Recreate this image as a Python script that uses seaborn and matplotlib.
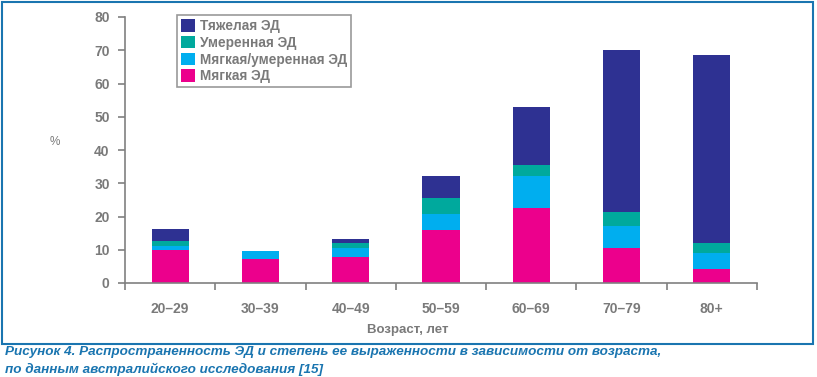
import numpy as np
import pandas as pd
import seaborn as sns
import matplotlib as mpl
import matplotlib.pyplot as plt
from matplotlib.patches import Patch, Rectangle

sns.set_theme(style="white")
plt.rcParams["font.family"] = ["Liberation Sans", "DejaVu Sans"]

ages = ["20–29", "30–39", "40–49", "50–59", "60–69", "70–79", "80+"]
mild = [10.0, 7.2, 7.8, 16.0, 22.6, 10.6, 4.3]
mild_moderate = [1.2, 2.5, 2.7, 4.8, 9.7, 6.6, 4.8]
moderate = [1.4, 0.0, 1.5, 4.8, 3.2, 4.2, 3.0]
severe = [3.6, 0.0, 1.2, 6.6, 17.4, 48.6, 56.5]

names = ["Мягкая ЭД", "Мягкая/умеренная ЭД", "Умеренная ЭД", "Тяжелая ЭД"]
colors = ["#ec008c", "#00aeef", "#00a99d", "#2e3192"]

df = pd.DataFrame({"age": ages, "mild": mild, "mm": mild_moderate,
                   "mod": moderate, "sev": severe})
df["c1"] = df["mild"]
df["c2"] = df["c1"] + df["mm"]
df["c3"] = df["c2"] + df["mod"]
df["c4"] = df["c3"] + df["sev"]

gray = "#808080"
tgray = "#7a7a7a"
blue = "#1a75b0"

W, H = 817, 377
fig = plt.figure(figsize=(W / 100, H / 100), dpi=100)
ax = fig.add_axes([125 / W, 1 - 283 / H, 632 / W, 266 / H])

# stacked bars: draw cumulative totals, tallest first
for col, c in zip(["c4", "c3", "c2", "c1"], colors[::-1]):
    sns.barplot(data=df, x="age", y=col, color=c, width=0.41,
                saturation=1, ax=ax, linewidth=0)

ax.set_ylim(0, 80)
ax.set_xlim(-0.5, 6.5)
ax.set_yticks(range(0, 81, 10))
ax.set_xlabel(None)
ax.set_ylabel(None)
for s in ["top", "right"]:
    ax.spines[s].set_visible(False)
for s in ["left", "bottom"]:
    ax.spines[s].set_color(gray)
    ax.spines[s].set_linewidth(1.2)

ax.set_xticks(np.arange(-0.5, 7, 1), minor=True)
ax.tick_params(axis="x", which="major", length=0, pad=14,
               labelsize=10, labelcolor=tgray)
ax.tick_params(axis="x", which="minor", length=5, width=1.2,
               color=gray, direction="out", bottom=True)
ax.tick_params(axis="y", length=5, width=1.2, color=gray, left=True,
               direction="out", pad=6, labelsize=10, labelcolor=tgray)
for lab in ax.get_xticklabels() + ax.get_yticklabels():
    lab.set_fontweight("bold")

handles = [Patch(facecolor=c, edgecolor="none", label=n)
           for n, c in zip(names[::-1], colors[::-1])]
leg = fig.legend(handles=handles, loc="upper left",
                 bbox_to_anchor=(177 / W, 1 - 15 / H), frameon=True,
                 fancybox=False, edgecolor=gray, handlelength=1.0,
                 handleheight=1.0, handletextpad=0.4, labelspacing=0.2,
                 borderpad=0.3, borderaxespad=0,
                 prop={"size": 9.8, "weight": "bold"})
leg.get_frame().set_linewidth(1.2)
for t in leg.get_texts():
    t.set_color(tgray)

fig.text(55 / W, 1 - 142 / H, "%", color=tgray, fontsize=8.5,
         ha="center", va="center")
fig.text(408 / W, 1 - 330 / H, "Возраст, лет", color=tgray, fontsize=9.5,
         fontweight="bold", ha="center", va="center")

fig.add_artist(Rectangle((2 / W, 1 - 344 / H), 811 / W, 342 / H,
                         transform=fig.transFigure, fill=False,
                         edgecolor=blue, linewidth=1.5))

fig.text(5 / W, 1 - 352 / H,
         "Рисунок 4. Распространенность ЭД и степень ее выраженности в зависимости от возраста,",
         color=blue, fontsize=9.7, fontweight="bold", fontstyle="italic",
         ha="left", va="center")
fig.text(5 / W, 1 - 369 / H,
         "по данным австралийского исследования [15]",
         color=blue, fontsize=9.7, fontweight="bold", fontstyle="italic",
         ha="left", va="center")

fig.savefig("out.png", dpi=100)
